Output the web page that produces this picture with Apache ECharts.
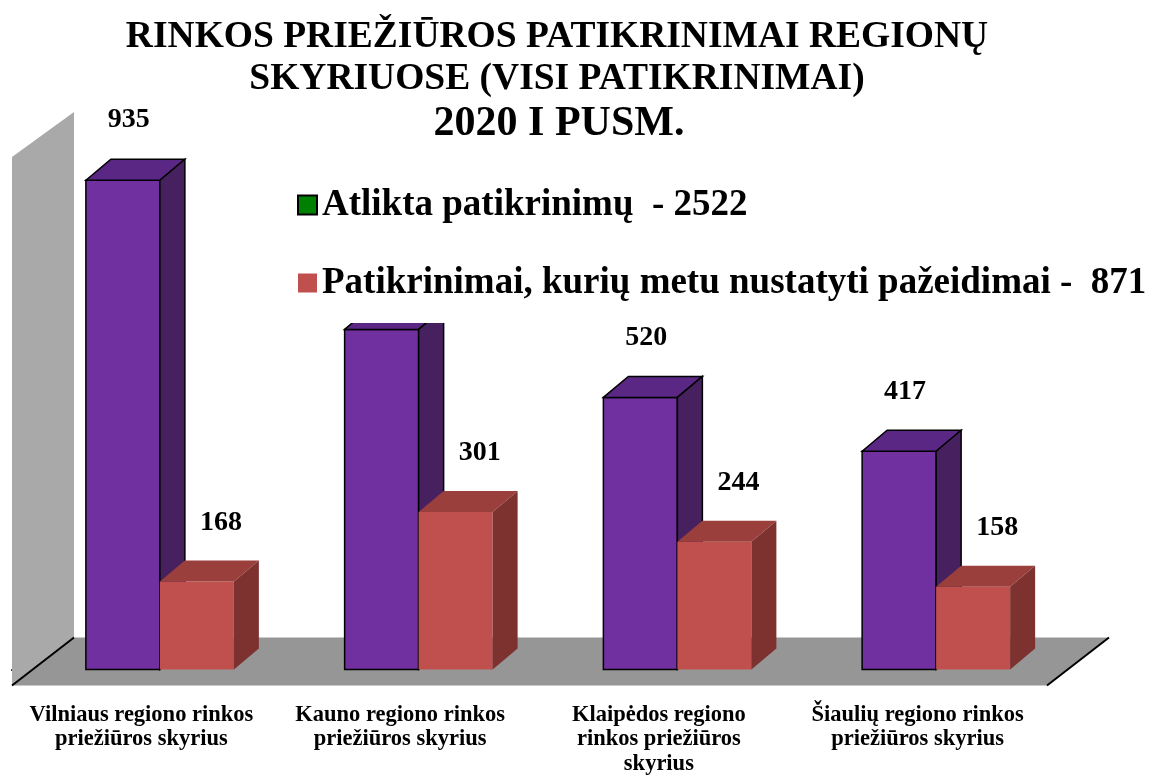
<!DOCTYPE html>
<html>
<head>
<meta charset="utf-8">
<script src="https://cdn.jsdelivr.net/npm/echarts@6/dist/echarts.min.js"></script>
<style>
  html, body { margin: 0; padding: 0; background: #fff; }
  #chart { width: 1157px; height: 776px; }
</style>
</head>
<body>
<div id="chart"></div>
<script>
// duomenys
var categories = [
    'Vilniaus regiono rinkos\npriežiūros skyrius',
    'Kauno regiono rinkos\npriežiūros skyrius',
    'Klaipėdos regiono\nrinkos priežiūros\nskyrius',
    'Šiaulių regiono rinkos\npriežiūros skyrius'
];
var allChecks = [935, 650, 520, 417];
var violationChecks = [168, 301, 244, 158];
var seriesNames = [
    'Atlikta patikrinimų  - 2522',
    'Patikrinimai, kurių metu nustatyti pažeidimai -  871'
];
var titleLines = ['RINKOS PRIEŽIŪROS PATIKRINIMAI REGIONŲ', 'SKYRIUOSE (VISI PATIKRINIMAI)'];
var subTitle = '2020 I PUSM.';

(function () {
    var myChart = echarts.init(document.getElementById('chart'));
    var FONT = "'Liberation Serif', 'Times New Roman', serif";
    // 3D gylis
    var FLOOR_DX = 62, FLOOR_DY = -48, FLOOR_FRONT = 16;
    var BAR_DX = 25, BAR_DY = -21, BAR_FRAC = 0.286;

    function barRender(colors, shiftFrac, outline, labelDx, labelDy) {
        return function (params, api) {
            var idx = api.value(0);
            var base = api.coord([idx, 0]);
            var top = api.coord([idx, api.value(1)]);
            var band = api.size([1, 0])[0];
            var w = band * BAR_FRAC;
            var x0 = base[0] + band * shiftFrac;
            var x1 = x0 + w;
            var yb = base[1], yt = top[1];
            var stroke = outline ? { stroke: '#000', lineWidth: 1.5 } : { stroke: null };
            return {
                type: 'group',
                children: [
                    {
                        type: 'polygon',
                        shape: { points: [[x0, yt], [x1, yt], [x1, yb], [x0, yb]] },
                        style: Object.assign({ fill: colors[0] }, stroke)
                    },
                    {
                        type: 'polygon',
                        shape: { points: [[x0, yt], [x0 + BAR_DX, yt + BAR_DY], [x1 + BAR_DX, yt + BAR_DY], [x1, yt]] },
                        style: Object.assign({ fill: colors[1] }, stroke)
                    },
                    {
                        type: 'polygon',
                        shape: { points: [[x1, yt], [x1 + BAR_DX, yt + BAR_DY], [x1 + BAR_DX, yb + BAR_DY], [x1, yb]] },
                        style: Object.assign({ fill: colors[2] }, stroke)
                    },
                    {
                        type: 'text',
                        style: {
                            x: x0 + w / 2 + labelDx,
                            y: yt + labelDy,
                            text: String(api.value(1)),
                            align: 'center',
                            verticalAlign: 'middle',
                            fill: '#000',
                            font: 'bold 28px ' + FONT
                        }
                    }
                ]
            };
        };
    }

    // grindys ir siena
    function floorRender(params) {
        var cs = params.coordSys;
        var xl = cs.x, xr = cs.x + cs.width;
        var yf = cs.y + cs.height + FLOOR_FRONT;
        var yTop = cs.y + FLOOR_FRONT;
        return {
            type: 'group',
            children: [
                {
                    type: 'polygon',
                    shape: { points: [[xl, yf], [xl, yTop], [xl + FLOOR_DX, yTop + FLOOR_DY + 3], [xl + FLOOR_DX, yf + FLOOR_DY]] },
                    style: { fill: '#a9a9a9' }
                },
                {
                    type: 'polygon',
                    shape: { points: [[xl, yf], [xr, yf], [xr + FLOOR_DX, yf + FLOOR_DY], [xl + FLOOR_DX, yf + FLOOR_DY]] },
                    style: { fill: '#969696' }
                },
                {
                    type: 'polyline',
                    shape: { points: [[xl + FLOOR_DX, yf + FLOOR_DY], [xl, yf]] },
                    style: { stroke: '#000', lineWidth: 2, fill: null }
                },
                {
                    type: 'polyline',
                    shape: { points: [[xr, yf], [xr + FLOOR_DX, yf + FLOOR_DY]] },
                    style: { stroke: '#000', lineWidth: 2, fill: null }
                }
            ]
        };
    }

    var option = {
        animation: false,
        backgroundColor: '#fff',
        title: [
            {
                text: titleLines.join('\n'),
                left: 552,
                top: 11,
                textAlign: 'center',
                textStyle: { fontFamily: FONT, fontSize: 37.5, fontWeight: 'bold', lineHeight: 42, color: '#000' }
            },
            {
                text: subTitle,
                left: 554,
                top: 96,
                textAlign: 'center',
                textStyle: { fontFamily: FONT, fontSize: 42, fontWeight: 'bold', lineHeight: 46, color: '#000' }
            }
        ],
        legend: {
            orient: 'vertical',
            left: 285,
            top: 168,
            z: 10,
            padding: [17, 10, 20, 12],
            itemGap: 38,
            itemWidth: 19,
            itemHeight: 19,
            icon: 'rect',
            backgroundColor: '#fff',
            selectedMode: false,
            textStyle: { fontFamily: FONT, fontSize: 37, fontWeight: 'bold', color: '#000', lineHeight: 40 },
            data: [
                { name: seriesNames[0], itemStyle: { color: '#008000', borderColor: '#000', borderWidth: 2 } },
                { name: seriesNames[1], itemStyle: { color: '#c0504d', borderWidth: 0 } }
            ]
        },
        grid: { left: 12, right: 110, top: 141, bottom: 106 },
        xAxis: {
            type: 'category',
            data: categories,
            offset: FLOOR_FRONT,
            axisLine: { lineStyle: { color: '#000', width: 2 } },
            axisTick: { show: true, length: 6, lineStyle: { color: '#000' } },
            axisLabel: {
                interval: 0,
                margin: 17,
                color: '#000',
                fontFamily: FONT,
                fontSize: 22.5,
                fontWeight: 'bold',
                lineHeight: 24.5
            },
            splitLine: { show: false }
        },
        yAxis: { type: 'value', min: 0, max: 1010, show: false },
        series: [
            {
                type: 'custom',
                silent: true,
                clip: false,
                renderItem: floorRender,
                data: [[0, 0]],
                z: 1
            },
            {
                name: seriesNames[0],
                type: 'custom',
                clip: false,
                itemStyle: { color: '#7030a0' },
                renderItem: barRender(['#7030a0', '#5a2785', '#47205f'], -0.2145, true, 6, -60),
                data: allChecks.map(function (v, i) { return [i, v]; }),
                encode: { x: 0, y: 1 },
                z: 2
            },
            {
                name: seriesNames[1],
                type: 'custom',
                clip: false,
                itemStyle: { color: '#c0504d' },
                renderItem: barRender(['#c0504d', '#9b3f3c', '#7d3230'], 0.0715, false, 24, -59),
                data: violationChecks.map(function (v, i) { return [i, v]; }),
                encode: { x: 0, y: 1 },
                z: 3
            }
        ]
    };
    myChart.setOption(option);
})();
</script>
</body>
</html>
